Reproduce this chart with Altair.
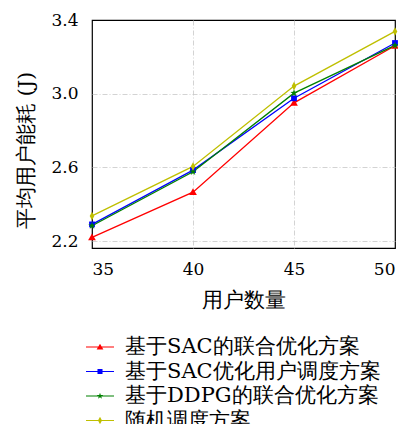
import altair as alt
import pandas as pd

users = [35, 40, 45, 50]
series_names = ["基于SAC的联合优化方案", "基于SAC优化用户调度方案", "基于DDPG的联合优化方案", "随机调度方案"]
sac_joint = [2.22, 2.465, 2.95, 3.26]
sac_sched = [2.29, 2.585, 2.975, 3.275]
ddpg_joint = [2.283, 2.576, 3.003, 3.262]
random_sched = [2.336, 2.605, 3.041, 3.338]
colors = ["#ff0000", "#0000ff", "#008000", "#bfbf00"]

values = [sac_joint, sac_sched, ddpg_joint, random_sched]
rows = []
for name, vals in zip(series_names, values):
    for u, v in zip(users, vals):
        rows.append({"users": u, "energy": v, "series": name})
df = pd.DataFrame(rows)

tri = [(0, -1), (1, 0.75), (-1, 0.75)]
sq = [(-0.75, -0.75), (0.75, -0.75), (0.75, 0.75), (-0.75, 0.75)]
star = [(0, -1), (0.235, -0.324), (0.951, -0.309), (0.38, 0.124), (0.588, 0.809),
        (0, 0.4), (-0.588, 0.809), (-0.38, 0.124), (-0.951, -0.309), (-0.235, -0.324)]
dia = [(0, -1.1), (0.6, 0), (0, 1.1), (-0.6, 0)]
markers = [tri, sq, star, dia]


def to_path(pts, s=1.0):
    return "M" + "L".join(f"{x*s:.3f},{y*s:.3f}" for x, y in pts) + "Z"


marker_paths = [to_path(m) for m in markers]
line_rect = "M-1,-0.03L1,-0.03L1,0.03L-1,0.03Z"
legend_paths = [line_rect + to_path(m, 0.24) for m in markers]

FONT = "DejaVu Serif"

x_enc = alt.X("users:Q", scale=alt.Scale(domain=[35, 50], nice=False),
              axis=alt.Axis(values=[35, 40, 45, 50], format="d", title="用户数量",
                            ticks=False, labelPadding=13, titlePadding=12,
                            grid=True, labelFontSize=17,
                            gridOpacity={"condition": {"test": "datum.value <= 35 || datum.value >= 50", "value": 0}, "value": 1}))
y_enc = alt.Y("energy:Q", scale=alt.Scale(domain=[2.162, 3.4], nice=False, zero=False),
              axis=alt.Axis(values=[2.2, 2.6, 3.0, 3.4], format=".1f", title="平均用户能耗 (J)",
                            ticks=False, labelPadding=14, grid=True, labelFontSize=17,
                            titleX=-66, titleY=130, titleAlign="center", titleBaseline="middle",
                            titleAngle=270,
                            gridOpacity={"condition": {"test": "datum.value >= 3.39", "value": 0}, "value": 1}))

lines = alt.Chart(df).mark_line(strokeWidth=1.3).encode(
    x=x_enc, y=y_enc,
    color=alt.Color("series:N", scale=alt.Scale(domain=series_names, range=colors), legend=None),
)
points = alt.Chart(df).mark_point(filled=True, opacity=1, size=60).encode(
    x="users:Q", y="energy:Q",
    color=alt.Color("series:N", scale=alt.Scale(domain=series_names, range=colors), legend=None),
    shape=alt.Shape("series:N", scale=alt.Scale(domain=series_names, range=marker_paths), legend=None),
)
leg = dict(title=None, orient="none", legendX=-7, legendY=317,
           symbolSize=784, symbolOpacity=1, labelOffset=10, clipHeight=20,
           rowPadding=3.5, labelFontSize=21, labelFont=FONT, labelLimit=400)
legend_layer = alt.Chart(df).mark_point(filled=True, opacity=0, size=784).encode(
    x="users:Q", y="energy:Q",
    color=alt.Color("series:N", scale=alt.Scale(domain=series_names, range=colors),
                    legend=alt.Legend(**leg)),
    shape=alt.Shape("series:N", scale=alt.Scale(domain=series_names, range=legend_paths),
                    legend=alt.Legend(**leg)),
)

chart = alt.layer(lines, points, legend_layer).resolve_scale(
    color="independent", shape="independent"
).properties(
    width=303, height=228,
    autosize=alt.AutoSizeParams(type="none"),
    padding={"left": 84, "top": 12, "right": 3, "bottom": 176},
).configure(
    font=FONT
).configure_view(
    stroke="black", strokeWidth=1.2
).configure_axis(
    labelFont=FONT, titleFont=FONT, titleFontSize=21,
    labelColor="black", titleColor="black", titleFontWeight="normal",
    domain=False, gridColor="#c8c8c8", gridDash=[5, 2, 1, 2], gridWidth=0.8,
).configure_legend(
    labelColor="black", labelFont=FONT
)

chart.save("out.html", embed_options={"renderer": "svg", "actions": False})
